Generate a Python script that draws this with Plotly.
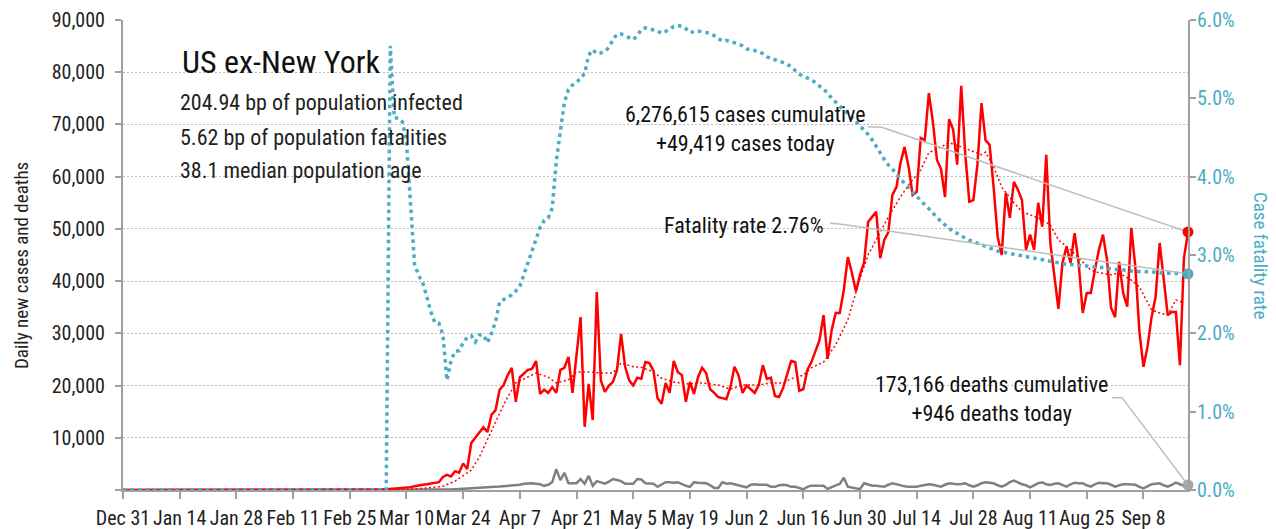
import plotly.graph_objects as go
import pandas as pd

START = "2019-12-31"

# Daily new cases (Dec 31 .. Sep 19)
cases = [0] * 61 + [
    30, 50, 80, 100, 150, 200, 250, 300, 400, 500,
    550, 700, 900, 1000, 1100, 1200, 1300, 1500,
    2500, 2900, 2600, 3600, 3300, 5100, 4000,
    9000, 10000, 10900, 12000, 11100, 14400, 15300,
    19200, 20100, 22000, 23400, 16900, 21600, 22400,
    23000, 23200, 24700, 18400, 19200, 18600, 19700,
    18600, 23000, 23400, 25500, 18600, 26000, 33100,
    12100, 20300, 13400, 37900, 21000, 18800, 20000,
    20700, 23000, 29900, 23600, 21000, 20000, 21500,
    21300, 24500, 24300, 22800, 17600, 16500, 20500,
    18600, 24700, 22600, 22000, 16900, 20700, 18400,
    21600, 23400, 22400, 19300, 18600, 17800, 17600,
    17400, 19700, 23600, 22000, 18600, 20000, 19300,
    18600, 20100, 23900, 21300, 21500, 18000, 17800,
    19500, 22000, 24700, 24500, 19000, 19300, 23000,
    24500, 26800, 28700, 33500, 25100, 30600, 33900,
    33900, 38300, 44600, 41600, 38000, 41200, 43500,
    51300, 52300, 53300, 44400, 47900, 49400, 56500,
    58000, 62600, 65700, 61900, 56500, 57100, 67400,
    67000, 76000, 70500, 63200, 61500, 56100, 71000,
    69000, 62300, 77400, 64200, 55200, 55500, 62300,
    74100, 67000, 66100, 58000, 48500, 45000, 56900,
    52100, 59000, 57500, 55500, 46000, 48900, 46000,
    55000, 50400, 64200, 47300, 40800, 34700, 43500,
    46600, 43500, 49200, 43500, 33900, 37700, 37700,
    42100, 46000, 48900, 44100, 34900, 33100, 43700,
    37700, 35100, 50200, 42700, 30300, 23600, 27400,
    33100, 37000, 47300, 39800, 33500, 34100, 34100,
    23900, 44400, 49419,
]

# Daily new deaths
deaths = [0] * 61 + [
    0, 1, 2, 2, 3, 5, 5, 8, 10, 10, 12, 15, 20, 25, 30,
    40, 50, 60, 80, 100, 120, 150, 180, 220,
    250, 300, 350, 400, 450, 500,
    550, 600, 650, 700, 800, 800, 900,
    1000, 1200, 1300, 1300, 1200, 1100, 800,
    1000, 1500, 4000, 1900, 3300, 1300, 1300,
    1300, 2100, 1200, 2700, 800, 1700, 1400,
    1200, 1600, 2100, 1900, 1700, 1200, 1200,
    1200, 2100, 2000, 1300, 1300, 1200, 600,
    1000, 1500, 1500, 1400, 1500, 1100, 800,
    600, 1500, 1400, 1300, 1300, 900, 400,
    400, 1500, 1200, 1300, 1100, 900, 600,
    500, 1000, 1100, 1000, 1000, 1000, 600,
    600, 900, 1000, 900, 600, 600, 300,
    150, 600, 830, 800, 770, 800, 200,
    600, 900, 1150, 2360, 640, 500, 300,
    150, 1280, 1000, 830, 800, 700, 640,
    1000, 1280, 1100, 830, 700, 640, 640,
    640, 800, 960, 1100, 1000, 800, 640,
    1000, 1280, 1200, 1100, 1150, 1280, 900,
    640, 900, 1300, 1470, 1380, 1280, 900,
    640, 1000, 1500, 1790, 1400, 1100, 900,
    500, 900, 1300, 1470, 1100, 960, 1200,
    1280, 900, 640, 1100, 1400, 1300, 1280,
    900, 640, 1100, 1400, 1300, 1280, 1000,
    640, 900, 1100, 1100, 1100, 1000, 600,
    320, 700, 1100, 1200, 1280, 900, 640,
    1000, 1400, 1100, 770, 946,
]

# Case fatality rate, percent
cfr = [0] * 66 + [
    5.67, 4.75, 4.75, 4.70, 4.45, 3.66, 2.88,
    2.74, 2.65, 2.47, 2.28, 2.14, 2.13, 1.98,
    1.40, 1.65, 1.77, 1.78, 1.88, 1.95, 1.97,
    1.89, 1.98, 1.98, 1.88, 2.00, 2.15, 2.40,
    2.43, 2.46, 2.49, 2.54, 2.60, 2.75, 2.91,
    3.05, 3.20, 3.35, 3.44, 3.47, 3.60, 4.20,
    4.60, 4.95, 5.11, 5.17, 5.21, 5.25, 5.32,
    5.55, 5.62, 5.57, 5.58, 5.60, 5.65, 5.75,
    5.82, 5.82, 5.80, 5.77, 5.75, 5.80, 5.88,
    5.90, 5.89, 5.88, 5.86, 5.83, 5.85, 5.88,
    5.92, 5.93, 5.92, 5.89, 5.84, 5.85, 5.86,
    5.85, 5.84, 5.83, 5.80, 5.77, 5.73, 5.74,
    5.73, 5.71, 5.69, 5.67, 5.63, 5.62, 5.62,
    5.60, 5.57, 5.53, 5.51, 5.49, 5.47, 5.45,
    5.44, 5.40, 5.35, 5.31, 5.28, 5.26, 5.24,
    5.20, 5.16, 5.12, 5.07, 5.00, 4.95, 4.89,
    4.85, 4.81, 4.76, 4.71, 4.65, 4.59, 4.54,
    4.47, 4.38, 4.30, 4.22, 4.15, 4.10, 4.03,
    3.97, 3.92, 3.86, 3.80, 3.75, 3.69, 3.64,
    3.59, 3.53, 3.48, 3.43, 3.38, 3.34, 3.30,
    3.28, 3.25, 3.21, 3.19, 3.16, 3.14, 3.12,
    3.10, 3.08, 3.06, 3.05, 3.04, 3.03, 3.02,
    3.01, 3.00, 2.99, 2.97, 2.96, 2.95, 2.94,
    2.93, 2.92, 2.91, 2.90, 2.89, 2.89, 2.88,
    2.88, 2.87, 2.87, 2.86, 2.86, 2.85, 2.85,
    2.84, 2.84, 2.83, 2.82, 2.82, 2.81, 2.81,
    2.80, 2.80, 2.79, 2.79, 2.79, 2.78, 2.78,
    2.78, 2.77, 2.77, 2.77, 2.77, 2.76, 2.76,
    2.76, 2.76,
]

# Smoothed cases (red dotted), read at selected days after Dec 31
avg_days = [0, 66, 70, 73, 76, 79, 82, 84, 86, 88, 90, 92, 93, 95, 97, 100, 102,
            105, 107, 110, 112, 115, 118, 121, 123, 126, 128, 131, 133, 136, 139,
            143, 147, 150, 153, 157, 160, 163, 165, 168, 170, 173, 176, 179, 180,
            182, 184, 187, 189, 192, 194, 197, 199, 202, 204, 207, 209, 212, 213,
            215, 217, 220, 222, 225, 226, 229, 231, 234, 236, 239, 241, 244, 246,
            249, 251, 254, 256, 258, 260, 262]
avg_values = [0, 0, 100, 250, 450, 700, 1700, 2800, 3800, 6300, 9500, 13000, 14700,
              17800, 20500, 21600, 22400, 21600, 20500, 21100, 22600, 22600, 22400,
              22400, 24300, 23600, 23500, 22600, 21400, 20700, 20300, 20500, 20100,
              19300, 20100, 20100, 20500, 20500, 21300, 22000, 23400, 24500, 27800,
              32600, 35100, 40500, 45000, 49400, 52300, 56100, 58400, 61300, 64600,
              65700, 66500, 65700, 65100, 64200, 64700, 61900, 58000, 55000, 53300,
              52300, 52100, 50800, 47900, 46000, 44400, 42100, 41600, 41200, 41600,
              40200, 38900, 34500, 33900, 33500, 36400, 35800]

left_ticks = [0, 10000, 20000, 30000, 40000, 50000, 60000, 70000, 80000, 90000]
left_labels = ["", "10,000", "20,000", "30,000", "40,000", "50,000",
               "60,000", "70,000", "80,000", "90,000"]
right_ticks = [0, 1, 2, 3, 4, 5, 6]
right_labels = ["0.0%", "1.0%", "2.0%", "3.0%", "4.0%", "5.0%", "6.0%"]

title_text = "US ex-New York"
info_lines = ["204.94 bp of population infected",
              "5.62 bp of population fatalities",
              "38.1 median population age"]
cases_label = "6,276,615 cases cumulative<br>+49,419 cases today"
cfr_label = "Fatality rate 2.76%"
deaths_label = "173,166 deaths cumulative<br>+946 deaths today"

RED = "#FF0000"
GRAY = "#808080"
BLUE = "#4BACC6"
LEADER = "#BDBDBD"
AXIS = "#A0A0A0"
FONT = "Roboto Condensed, DejaVu Sans Condensed, sans-serif"

t0 = pd.Timestamp(START)
dates = pd.date_range(t0, periods=len(cases), freq="D")
avg_dates = [t0 + pd.Timedelta(days=d) for d in avg_days]
last = dates[-1]

fig = go.Figure()
fig.add_trace(go.Scatter(x=dates, y=deaths, mode="lines",
                         line=dict(color=GRAY, width=2.5), hoverinfo="skip"))
fig.add_trace(go.Scatter(x=dates, y=cases, mode="lines",
                         line=dict(color=RED, width=2.5), hoverinfo="skip"))
fig.add_trace(go.Scatter(x=avg_dates, y=avg_values, mode="lines",
                         line=dict(color=RED, width=1.5, dash="2px,2.5px"), hoverinfo="skip"))

# leader lines (text anchor -> elbow -> last data point)
fig.add_trace(go.Scatter(
    x=[pd.Timestamp("2020-07-01 22:48"), pd.Timestamp("2020-07-05 09:36"), last],
    y=[69540, 69440, cases[-1]], mode="lines",
    line=dict(color=LEADER, width=1.5), hoverinfo="skip"))
fig.add_trace(go.Scatter(
    x=[pd.Timestamp("2020-08-31 05:00"), pd.Timestamp("2020-09-02 17:00"), last],
    y=[17680, 17680, deaths[-1]], mode="lines",
    line=dict(color=LEADER, width=1.5), hoverinfo="skip"))

fig.add_trace(go.Scatter(x=[last], y=[cases[-1]], mode="markers",
                         marker=dict(color=RED, size=11), cliponaxis=False, hoverinfo="skip"))
fig.add_trace(go.Scatter(x=[last], y=[deaths[-1]], mode="markers",
                         marker=dict(color="#A6A6A6", size=11), cliponaxis=False, hoverinfo="skip"))

fig.add_trace(go.Scatter(x=dates, y=cfr, mode="lines", yaxis="y2",
                         line=dict(color=BLUE, width=3.5, dash="3.5px,4px"), hoverinfo="skip"))
fig.add_trace(go.Scatter(
    x=[pd.Timestamp("2020-06-22 14:00"), pd.Timestamp("2020-06-24 22:00"), last],
    y=[3.404, 3.397, cfr[-1]], mode="lines", yaxis="y2",
    line=dict(color=LEADER, width=1.5), hoverinfo="skip"))
fig.add_trace(go.Scatter(x=[last], y=[cfr[-1]], mode="markers", yaxis="y2",
                         marker=dict(color=BLUE, size=11), cliponaxis=False, hoverinfo="skip"))

tickfont = dict(family=FONT, size=20, color="#222222")

# page body has an 8px margin; figure sized/offset so the plot lands at 123..1188 x 20..490
fig.update_layout(
    width=1268, height=521,
    margin=dict(l=115, r=88, t=12, b=39, autoexpand=False),
    paper_bgcolor="white", plot_bgcolor="white",
    showlegend=False,
    font=dict(family=FONT, color="#222222"),
    xaxis=dict(
        type="date", range=[t0, last], automargin=False,
        tick0=START, dtick=14 * 86400000, tickformat="%b %-d", tickangle=0,
        ticks="outside", ticklen=7, tickwidth=1.5, tickcolor=AXIS,
        showline=True, linecolor=AXIS, linewidth=2,
        showgrid=False, zeroline=False, tickfont=tickfont,
        ticklabelstandoff=2,
    ),
    yaxis=dict(
        range=[0, 90000], automargin=False,
        tickvals=left_ticks, ticktext=left_labels,
        ticks="outside", ticklen=6, tickwidth=1.5, tickcolor=AXIS,
        showline=True, linecolor=AXIS, linewidth=2,
        showgrid=True, gridcolor="#BBBBBB", gridwidth=1, griddash="2px,2px",
        zeroline=False, tickfont=tickfont, ticklabelstandoff=6,
    ),
    yaxis2=dict(
        overlaying="y", side="right", range=[0, 6], automargin=False,
        tickvals=right_ticks, ticktext=right_labels,
        ticks="outside", ticklen=6, tickwidth=1.5, tickcolor=AXIS,
        showline=True, linecolor=AXIS, linewidth=2,
        showgrid=False, zeroline=False,
        tickfont=dict(family=FONT, size=20, color=BLUE), ticklabelstandoff=-3,
    ),
)

def px_x(px):
    return (px - 123) / 1065.0

def px_y(py):
    return (490 - py) / 470.0

ann = []
ann.append(dict(text=title_text, x=px_x(180), y=px_y(62), xref="paper", yref="paper",
                xanchor="left", yanchor="middle", showarrow=False,
                font=dict(family=FONT, size=32, color="#111111")))
for line, py in zip(info_lines, [102, 137, 171]):
    ann.append(dict(text=line, x=px_x(178), y=px_y(py), xref="paper", yref="paper",
                    xanchor="left", yanchor="middle", showarrow=False,
                    font=dict(family=FONT, size=22, color="#222222")))
ann.append(dict(text=cases_label, x=px_x(745), y=px_y(129), xref="paper", yref="paper",
                xanchor="center", yanchor="middle", align="center", showarrow=False,
                font=dict(family=FONT, size=22, color="#111111")))
ann.append(dict(text=cfr_label, x=px_x(826), y=px_y(225), xref="paper", yref="paper",
                xanchor="right", yanchor="middle", showarrow=False,
                font=dict(family=FONT, size=22, color="#111111")))
ann.append(dict(text=deaths_label, x=px_x(991), y=px_y(399), xref="paper", yref="paper",
                xanchor="center", yanchor="middle", align="center", showarrow=False,
                font=dict(family=FONT, size=22, color="#111111")))
ann.append(dict(text="Daily new cases and deaths", x=px_x(21), y=px_y(266),
                xref="paper", yref="paper", xanchor="center", yanchor="middle",
                textangle=-90, showarrow=False,
                font=dict(family=FONT, size=19, color="#222222")))
ann.append(dict(text="Case fatality rate", x=px_x(1261), y=px_y(255),
                xref="paper", yref="paper", xanchor="center", yanchor="middle",
                textangle=90, showarrow=False,
                font=dict(family=FONT, size=19, color=BLUE)))
fig.update_layout(annotations=ann)

fig.write_html("out.html")
